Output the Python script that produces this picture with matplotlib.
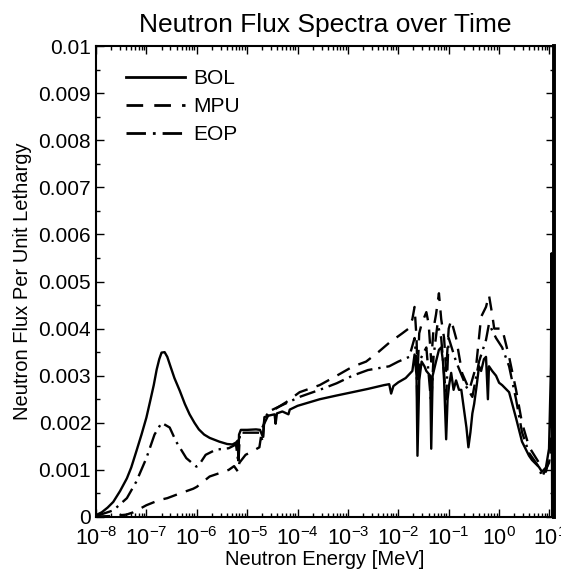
import matplotlib
matplotlib.use('Agg')
import matplotlib.pyplot as plt
import numpy as np
from matplotlib.ticker import LogLocator, MultipleLocator, FuncFormatter, NullFormatter

plt.rcParams['font.family'] = ['Liberation Sans', 'DejaVu Sans']
plt.rcParams['mathtext.fontset'] = 'custom'
plt.rcParams['mathtext.rm'] = 'Liberation Sans'
plt.rcParams['mathtext.it'] = 'Liberation Sans:italic'
plt.rcParams['mathtext.bf'] = 'Liberation Sans:bold'

# ---------------- data (energy in MeV, flux per unit lethargy) ----------------
bol_energy = [1.0e-8, 1.3e-8, 1.7e-8, 2.2e-8, 3.0e-8, 4.1e-8, 5.0e-8, 6.3e-8, 8.0e-8,
              1.0e-7, 1.2e-7, 1.4e-7, 1.6e-7, 1.8e-7, 2.0e-7, 2.3e-7, 2.6e-7, 3.0e-7,
              3.6e-7, 4.6e-7, 5.8e-7, 7.2e-7, 9.0e-7, 1.1e-6, 1.4e-6, 1.8e-6, 2.8e-6,
              4.0e-6, 5.1e-6, 6.0e-6, 6.5e-6, 6.7e-6, 6.9e-6, 7.5e-6, 1.0e-5, 1.5e-5,
              1.8e-5, 2.05e-5, 2.2e-5, 2.6e-5, 3.5e-5, 3.67e-5, 3.9e-5, 5.0e-5, 6.6e-5,
              7.0e-5, 1.0e-4, 2.75e-4, 6.0e-4, 1.23e-3, 2.5e-3, 5.2e-3, 6.6e-3, 7.2e-3,
              8.0e-3, 1.0e-2, 1.4e-2, 1.9e-2, 2.1e-2, 2.3e-2, 2.4e-2, 2.6e-2, 2.9e-2,
              3.3e-2, 3.6e-2, 4.3e-2, 4.5e-2, 4.8e-2, 5.6e-2, 6.4e-2, 7.1e-2, 7.7e-2,
              8.1e-2, 8.9e-2, 9.5e-2, 0.102, 0.112, 0.125, 0.14, 0.16, 0.178, 0.20,
              0.225, 0.246, 0.27, 0.295, 0.32, 0.36, 0.40, 0.44, 0.50, 0.55, 0.60,
              0.63, 0.73, 0.87, 1.0, 1.15, 1.58, 2.17, 2.85, 3.93, 4.5, 6.2, 7.1,
              8.5, 9.8, 10.7, 11.0, 11.3]
bol_flux = [0.00004, 0.00010, 0.00020, 0.00032, 0.00055, 0.00082, 0.00105, 0.00139, 0.00175,
            0.00211, 0.00248, 0.00280, 0.00313, 0.00335, 0.00349, 0.00350, 0.00340, 0.00320,
            0.00295, 0.00268, 0.00240, 0.00218, 0.00200, 0.00186, 0.00175, 0.00168, 0.00160,
            0.00155, 0.00154, 0.00158, 0.00162, 0.00120, 0.00175, 0.00185, 0.00185, 0.00186,
            0.00185, 0.00170, 0.00212, 0.00215, 0.00218, 0.00198, 0.00220, 0.00224, 0.00218,
            0.00228, 0.00236, 0.00250, 0.00258, 0.00265, 0.00272, 0.00280, 0.00282, 0.00262,
            0.00278, 0.00286, 0.00295, 0.00310, 0.00345, 0.00300, 0.00130, 0.00290, 0.00330,
            0.00320, 0.00310, 0.00300, 0.00145, 0.00300, 0.00330, 0.00355, 0.00360, 0.00330,
            0.00290, 0.00165, 0.00250, 0.00280, 0.00306, 0.00270, 0.00290, 0.00270, 0.00270, 0.00230,
            0.00190, 0.00148, 0.00180, 0.00220, 0.00240, 0.00280, 0.00320, 0.00310, 0.00335, 0.00340, 0.00250,
            0.00320, 0.00310, 0.00300, 0.00285, 0.00280, 0.00265, 0.00210, 0.00160, 0.00130, 0.00121, 0.00106, 0.00096,
            0.00105, 0.00145, 0.00320, 0.00560, 0.0]

mpu_energy = [1.0e-8, 2.0e-8, 4.0e-8, 5.5e-8, 1.0e-7, 1.8e-7, 2.6e-7, 4.6e-7, 8.5e-7,
              1.0e-6, 1.8e-6, 2.8e-6, 4.3e-6, 5.5e-6, 6.7e-6, 7.0e-6, 9.3e-6, 1.2e-5,
              1.75e-5, 2.0e-5, 2.8e-5, 6.0e-5, 1.1e-4, 2.75e-4, 6.0e-4, 1.23e-3, 2.3e-3,
              4.0e-3, 6.6e-3, 1.2e-2, 1.6e-2, 1.9e-2, 2.1e-2, 2.3e-2, 2.4e-2, 2.6e-2,
              2.9e-2, 3.6e-2, 4.0e-2, 4.5e-2, 5.0e-2, 5.6e-2, 6.4e-2, 7.1e-2, 8.1e-2,
              8.9e-2, 0.10, 0.112, 0.14, 0.185, 0.257, 0.35, 0.44, 0.55, 0.63, 0.73,
              0.80, 1.15, 1.58, 2.17, 2.85, 3.93, 6.2, 8.5, 10.4, 11.0]
mpu_flux = [0.00001, 0.00002, 0.00005, 0.00010, 0.00025, 0.00036, 0.00040, 0.00050, 0.00060,
            0.00064, 0.00086, 0.00093, 0.00100, 0.00108, 0.00095, 0.00115, 0.00132, 0.00138,
            0.00148, 0.00190, 0.00222, 0.00244, 0.00265, 0.00280, 0.00300, 0.00319, 0.00330,
            0.00350, 0.00370, 0.00390, 0.00400, 0.00420, 0.00446, 0.00380, 0.00300, 0.00390,
            0.00410, 0.00435, 0.00410, 0.00330, 0.00400, 0.00430, 0.00475, 0.00420, 0.00380,
            0.00310, 0.00400, 0.00418, 0.00380, 0.00305, 0.00270, 0.00320, 0.00425, 0.00446, 0.00471, 0.00430,
            0.00400, 0.00400, 0.00340, 0.00270, 0.00200, 0.00149, 0.00115, 0.00096, 0.00136, 0.00200]

eop_energy = [1.0e-8, 2.2e-8, 4.1e-8, 6.3e-8, 1.0e-7, 1.45e-7, 2.0e-7, 2.9e-7, 3.9e-7,
              6.2e-7, 9.8e-7, 1.1e-6, 1.5e-6, 2.4e-6, 4.3e-6, 6.0e-6, 6.7e-6, 7.2e-6,
              1.75e-5, 2.05e-5, 2.2e-5, 2.8e-5, 1.1e-4, 2.75e-4, 6.0e-4, 1.23e-3, 2.5e-3,
              6.6e-3, 1.0e-2, 1.65e-2, 2.1e-2, 2.3e-2, 2.4e-2, 2.6e-2, 3.6e-2, 4.5e-2,
              5.0e-2, 6.0e-2, 7.1e-2, 8.9e-2, 0.10, 0.14, 0.225, 0.295, 0.40, 0.55,
              0.63, 0.87, 1.15, 1.58, 2.17, 2.85, 3.93, 6.2, 7.1, 9.8, 10.6]
eop_flux = [0.00002, 0.00014, 0.00040, 0.00075, 0.00125, 0.00175, 0.00200, 0.00190, 0.00160,
            0.00125, 0.00107, 0.00110, 0.00132, 0.00143, 0.00146, 0.00154, 0.00115, 0.00179,
            0.00179, 0.00160, 0.00210, 0.00225, 0.00255, 0.00270, 0.00284, 0.00300, 0.00312,
            0.00320, 0.00330, 0.00340, 0.00380, 0.00330, 0.00220, 0.00330, 0.00360, 0.00240,
            0.00340, 0.00410, 0.00380, 0.00250, 0.00380, 0.00330, 0.00276, 0.00255, 0.00330, 0.00376,
            0.00410, 0.00380, 0.00360, 0.00320, 0.00250, 0.00180, 0.00136, 0.00106, 0.00085, 0.00115, 0.00140]

series_labels = ['BOL', 'MPU', 'EOP']
y_ticks = [0, 0.001, 0.002, 0.003, 0.004, 0.005, 0.006, 0.007, 0.008, 0.009, 0.01]

# ---------------- figure ----------------
fig = plt.figure(figsize=(5.61, 5.71), dpi=100)
ax = fig.add_axes([96/561, 54/571, 458/561, 471/571])

lw = 1.7
ax.plot(bol_energy, bol_flux, color='black', lw=lw, linestyle='-', label=series_labels[0])
ax.plot(mpu_energy, mpu_flux, color='black', lw=lw, linestyle=(0, (6, 4)), label=series_labels[1])
ax.plot(eop_energy, eop_flux, color='black', lw=lw, linestyle=(0, (7, 2.5, 1, 2.5)), label=series_labels[2])

ax.set_xscale('log')
ax.set_xlim(1e-8, 12.3)
ax.set_ylim(0, 0.01)
ax.xaxis.set_major_locator(LogLocator(base=10, numticks=20))
ax.xaxis.set_minor_locator(LogLocator(base=10, subs=np.arange(2, 10), numticks=20))
ax.xaxis.set_minor_formatter(NullFormatter())
ax.set_yticks(y_ticks)
ax.yaxis.set_minor_locator(MultipleLocator(0.0005))
ax.yaxis.set_major_formatter(FuncFormatter(lambda v, p: '0' if v == 0 else ('%g' % v)))

ax.tick_params(which='both', direction='in', top=True, right=True, labelsize=15, width=1)
ax.tick_params(axis='x', which='major', labelsize=15.5, pad=7.5)
ax.tick_params(which='major', length=6)
ax.tick_params(which='minor', length=3)
for s in ax.spines.values():
    s.set_linewidth(1.5)
ax.spines['right'].set_linewidth(2.8)

ax.set_title('Neutron Flux Spectra over Time', fontsize=19, pad=10)
ax.set_xlabel('Neutron Energy [MeV]', fontsize=14.5, labelpad=0)
ax.set_ylabel('Neutron Flux Per Unit Lethargy', fontsize=14.5, labelpad=5)

leg = ax.legend(loc='upper left', bbox_to_anchor=(0.025, 0.99), frameon=False, fontsize=15,
                handlelength=2.8, handletextpad=0.4, labelspacing=0.42)
for h in leg.get_lines():
    h.set_linewidth(2.0)

fig.savefig('out.png', dpi=100)
